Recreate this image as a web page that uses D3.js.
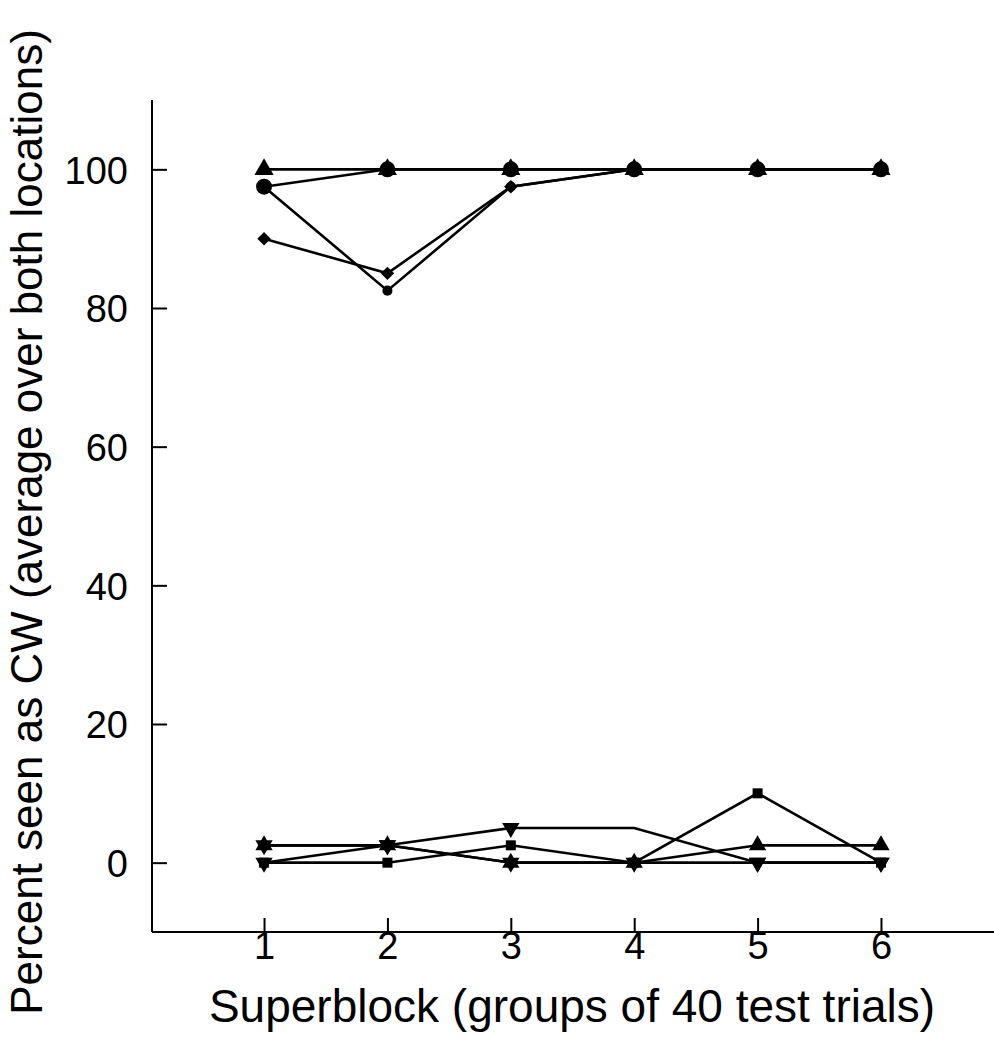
<!DOCTYPE html>
<html>
<head>
<meta charset="utf-8">
<script src="https://cdn.jsdelivr.net/npm/d3@7"></script>
<style>
  body { margin: 0; background: #fff; }
  svg { display: block; }
</style>
</head>
<body>
<div id="chart"></div>
<script>
// Superblocks 1..6
const superblocks = [1, 2, 3, 4, 5, 6];

// Upper group (percent seen as CW)
const triUpHigh   = [100, 100, 100, 100, 100, 100];
const circleBig   = [97.5, 100, 100, 100, 100, 100];
const circleSmall = [97.5, 82.5, 97.5, 100, 100, 100];
const diamondHigh = [90, 85, 97.5, 100, 100, 100];

// Lower group
const triUpLow    = [2.5, 2.5, 0, 0, 2.5, 2.5];
const triDownA    = [0, 2.5, 5, 5, 0, 0];
const squareLow   = [0, 0, 2.5, 0, 10, 0];
const triDownB    = [2.5, 2.5, 0, 0, 0, 0];

const yTicks = [0, 20, 40, 60, 80, 100];

const series = [
  { values: triUpHigh, symbol: d3.symbolTriangle, size: 160 },
  { values: circleSmall, symbol: d3.symbolCircle, size: 80 },
  { values: diamondHigh, symbol: d3.symbolSquare, size: 90, rotate: 45 },
  { values: circleBig, symbol: d3.symbolCircle, size: 200 },
  { values: triUpLow, symbol: d3.symbolTriangle, size: 130 },
  { values: triDownA, symbol: d3.symbolTriangle, size: 130, rotate: 180, hidden: [3] }, // no marker drawn at block 4 in the original
  { values: squareLow, symbol: d3.symbolSquare, size: 100 },
  { values: triDownB, symbol: d3.symbolTriangle, size: 130, rotate: 180 }
];

const width = 994;
const height = 1050;
const font = '"Liberation Sans", Arial, Helvetica, sans-serif';

const svg = d3.select('#chart')
  .append('svg')
  .attr('width', width)
  .attr('height', height)
  .style('font-family', font);

// Scales (plot box: x 152..994, y 100..932)
const x = d3.scaleLinear()
  .domain([0.092, 6.916])
  .range([152, 994]);

const y = d3.scaleLinear()
  .domain([-10, 110])
  .range([932, 100]);

// Axes: ticks point inward
const xAxis = svg.append('g')
  .attr('transform', `translate(0,${y(-10)})`)
  .call(d3.axisBottom(x).tickValues(superblocks).tickSize(-14).tickPadding(0).tickFormat(d3.format('d')));

const yAxis = svg.append('g')
  .attr('transform', `translate(${x(0.092)},0)`)
  .call(d3.axisLeft(y).tickValues(yTicks).tickSize(-15).tickPadding(0));

[xAxis, yAxis].forEach(a => {
  a.select('.domain').attr('stroke', '#000').attr('stroke-width', 2);
  a.selectAll('.tick line').attr('stroke', '#000').attr('stroke-width', 2);
});
xAxis.select('.domain').attr('d', `M${x.range()[0]},0H${x.range()[1]}`);
yAxis.select('.domain').attr('d', `M0,${y.range()[0]}V${y.range()[1]}`);

xAxis.selectAll('.tick text')
  .attr('y', 0)
  .attr('dy', '0.71em')
  .style('font-size', '38px')
  .style('font-family', font)
  .attr('fill', '#000');

yAxis.selectAll('.tick text')
  .attr('x', -24)
  .attr('dy', '0.36em')
  .style('font-size', '38px')
  .style('font-family', font)
  .attr('fill', '#000');

// Lines
const line = d3.line()
  .x((d, i) => x(superblocks[i]))
  .y(d => y(d));

svg.append('g')
  .selectAll('path')
  .data(series)
  .join('path')
  .attr('fill', 'none')
  .attr('stroke', '#000')
  .attr('stroke-width', 2.6)
  .attr('d', d => line(d.values));

// Markers
series.forEach(s => {
  const sym = d3.symbol().type(s.symbol).size(s.size);
  const pts = s.values
    .map((v, i) => ({ v, i }))
    .filter(p => !(s.hidden || []).includes(p.i));
  svg.append('g')
    .selectAll('path')
    .data(pts)
    .join('path')
    .attr('d', sym)
    .attr('fill', '#000')
    .attr('transform', p => `translate(${x(superblocks[p.i])},${y(p.v)})${s.rotate ? ` rotate(${s.rotate})` : ''}`);
});

// Axis titles
svg.append('text')
  .attr('x', 572)
  .attr('y', 1022)
  .attr('text-anchor', 'middle')
  .style('font-size', '46px')
  .text('Superblock (groups of 40 test trials)');

svg.append('text')
  .attr('transform', 'translate(42,522) rotate(-90)')
  .attr('text-anchor', 'middle')
  .style('font-size', '44px')
  .text('Percent seen as CW (average over both locations)');
</script>
</body>
</html>
